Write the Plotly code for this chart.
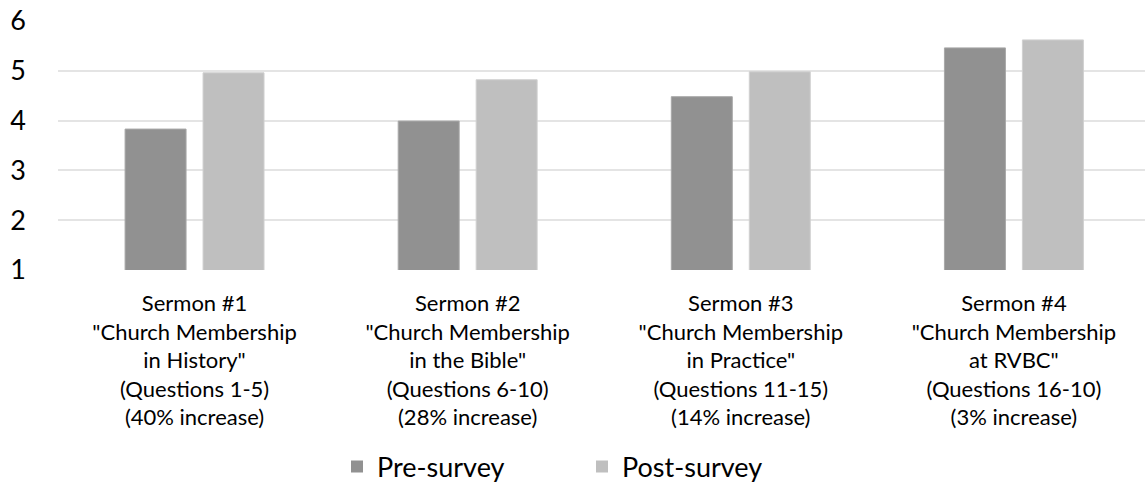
import plotly.graph_objects as go

categories = [
    'Sermon #1<br>"Church Membership<br>in History"<br>(Questions 1-5)<br>(40% increase)',
    'Sermon #2<br>"Church Membership<br>in the Bible"<br>(Questions 6-10)<br>(28% increase)',
    'Sermon #3<br>"Church Membership<br>in Practice"<br>(Questions 11-15)<br>(14% increase)',
    'Sermon #4<br>"Church Membership<br>at RVBC"<br>(Questions 16-10)<br>(3% increase)',
]
pre_survey = [3.83, 3.99, 4.48, 5.46]
post_survey = [4.96, 4.82, 4.98, 5.62]
y_ticks = [1, 2, 3, 4, 5, 6]
series_names = ["Pre-survey", "Post-survey"]
series_colors = ["#919191", "#bfbfbf"]

FONT = "Lato"

fig = go.Figure()
fig.add_trace(go.Bar(name=series_names[0], x=categories, y=pre_survey, showlegend=False,
                     marker=dict(color=series_colors[0], line=dict(color="#a8a8a8", width=1))))
fig.add_trace(go.Bar(name=series_names[1], x=categories, y=post_survey, showlegend=False,
                     marker=dict(color=series_colors[1], line=dict(color="#d0d0d0", width=1))))
# legend entries with larger square symbols
for name, col in zip(series_names, series_colors):
    fig.add_trace(go.Scatter(name=name, x=[None], y=[None], mode="markers",
                             marker=dict(symbol="square", size=18, color=col)))

fig.update_layout(
    width=1145, height=487,
    margin=dict(l=58, r=0, t=21, b=217, autoexpand=False),
    paper_bgcolor="white", plot_bgcolor="white",
    barmode="group", bargap=0.429, bargroupgap=0.218,
    font=dict(family=FONT, color="#000000"),
    showlegend=True,
    legend=dict(orientation="h", xref="container", x=582 / 1145, xanchor="center",
                yref="container", y=1 - 467 / 487, yanchor="middle",
                font=dict(size=27, family=FONT, color="#000000"), entrywidth=200,
                itemsizing="constant"),
    xaxis=dict(range=[-0.5, 3.48], showgrid=False, showline=False, ticks="",
               tickfont=dict(size=22, family=FONT, color="#000000"),
               ticklabelstandoff=18),
    yaxis=dict(range=[1, 6], tickvals=y_ticks, showgrid=True, gridcolor="#e4e4e4",
               gridwidth=1.5, zeroline=False, showline=False, ticks="",
               tickfont=dict(size=27, family=FONT, color="#000000"),
               ticklabelstandoff=31),
)

fig.write_html("out.html")
